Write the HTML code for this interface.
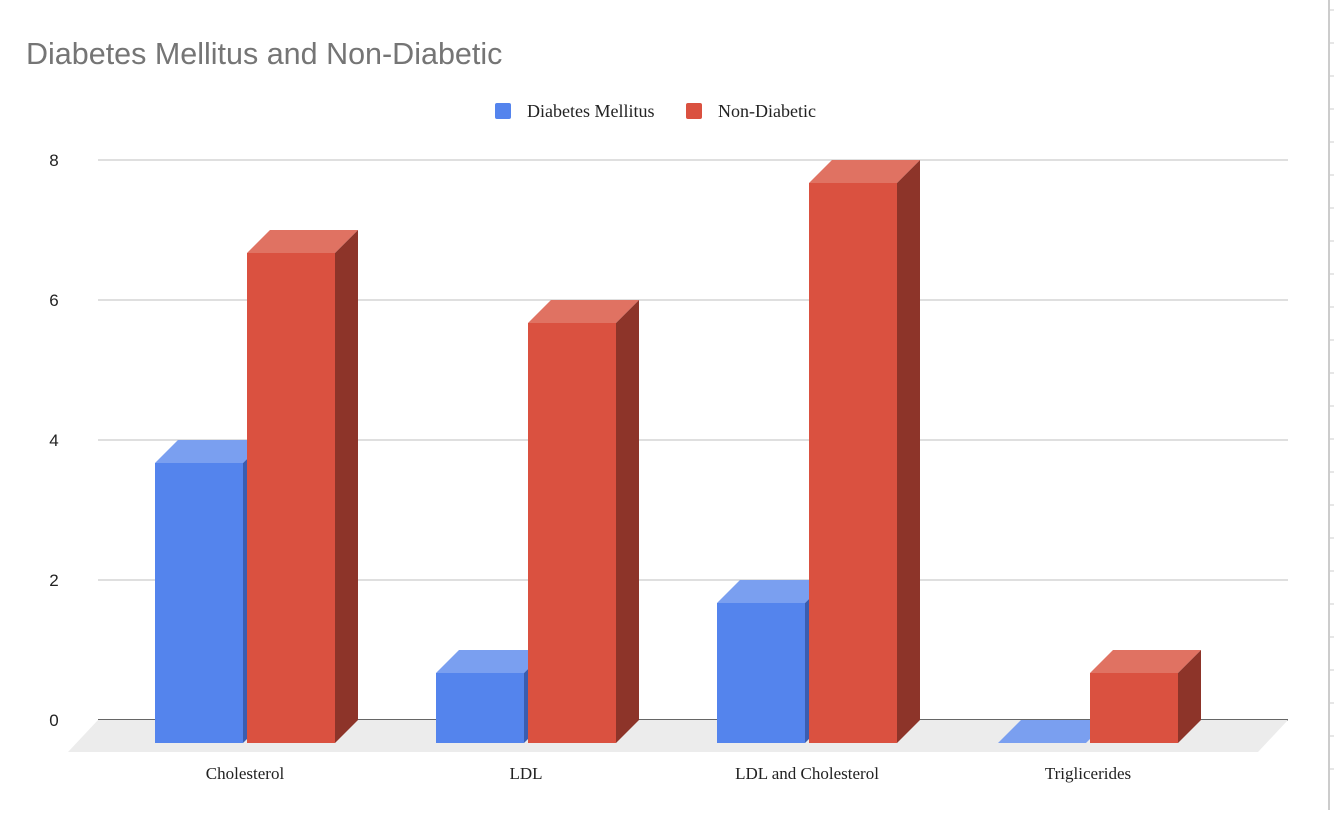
<!DOCTYPE html>
<html><head><meta charset="utf-8"><style>
body{margin:0;background:#fff;width:1334px;height:810px;overflow:hidden}
svg text{font-family:"Liberation Serif",serif}
</style></head><body>
<svg id="chart" width="1334" height="810" xmlns="http://www.w3.org/2000/svg">
<text x="26" y="64" font-size="30.5" fill="#757575" style="font-family:'Liberation Sans',sans-serif">Diabetes Mellitus and Non-Diabetic</text>
<g>
<rect x="495" y="103" width="16" height="16" rx="2" fill="#5484ED"/>
<text x="527" y="117" font-size="18" fill="#222">Diabetes Mellitus</text>
<rect x="686" y="103" width="16" height="16" rx="2" fill="#DA5140"/>
<text x="718" y="117" font-size="18" fill="#222">Non-Diabetic</text>
</g>
<g>
<line x1="1329" y1="0" x2="1329" y2="810" stroke="#bbb" stroke-width="1.5"/>
</g>
<g id="grid"></g><g id="floor"></g><g id="bars"></g><g id="labels"></g>
</svg>
<script>
const categories=["Cholesterol","LDL","LDL and Cholesterol","Triglicerides"];
const diabetesValues=[4,1,2,0];
const nonDiabeticValues=[7,6,8,1];
const yTicks=[0,2,4,6,8];
const NS="http://www.w3.org/2000/svg";
const svg=document.getElementById('chart');
const y0=720,ppu=70,D=23,left=98,right=1288;
function y(v){return y0-v*ppu;}
function xGroup(i){return 155+i*281;}
function mk(tag,attrs,parent){const e=document.createElementNS(NS,tag);for(const k in attrs)e.setAttribute(k,attrs[k]);parent.appendChild(e);return e;}
const grid=document.getElementById('grid');
for(let k=0;k<24;k++){const t=mk('line',{x1:1329,x2:1334,y1:10+k*33,y2:10+k*33,stroke:'#ccc'},grid);

}
yTicks.forEach(v=>{
 const l=mk('line',{x1:left,x2:right,y1:y(v),y2:y(v),stroke:v===0?'#333':'#ccc','stroke-width':v===0?1.5:1.2},grid);
 
 
 const t=mk('text',{x:54,y:y(v)+6,'font-size':17,fill:'#222','text-anchor':'middle',style:"font-family:'Liberation Sans',sans-serif"},grid);
 t.textContent=v;
 
 
});
const floor=mk('polygon',{points:`${left},${y0} ${right},${y0} ${right-30},${y0+32} ${left-30},${y0+32}`,fill:'#ececec'},document.getElementById('floor'));


const bars=document.getElementById('bars');
function bar(x,v,cf,ct,cs,name){
 const g=mk('g',{},bars);
 
 
 const bot=y0+D,top=y(v)+D,w=88;
 mk('polygon',{points:`${x},${top} ${x+D},${top-D} ${x+w+D},${top-D} ${x+w},${top}`,fill:ct},g);
 mk('polygon',{points:`${x+w},${top} ${x+w+D},${top-D} ${x+w+D},${bot-D} ${x+w},${bot}`,fill:cs},g);
 mk('rect',{x:x,y:top,width:w,height:bot-top,fill:cf},g);
}
categories.forEach((c,i)=>{
 const x=xGroup(i);
 bar(x,diabetesValues[i],'#5484ED','#7A9FF0','#3A5DB0','bar-diabetes-'+i);
 bar(x+92,nonDiabeticValues[i],'#DA5140','#E07262','#8D3429','bar-non-diabetic-'+i);
 const t=mk('text',{x:x+90,y:779,'font-size':17,fill:'#222','text-anchor':'middle'},document.getElementById('labels'));
 t.textContent=c;
 
 
});
</script>
</body></html>
